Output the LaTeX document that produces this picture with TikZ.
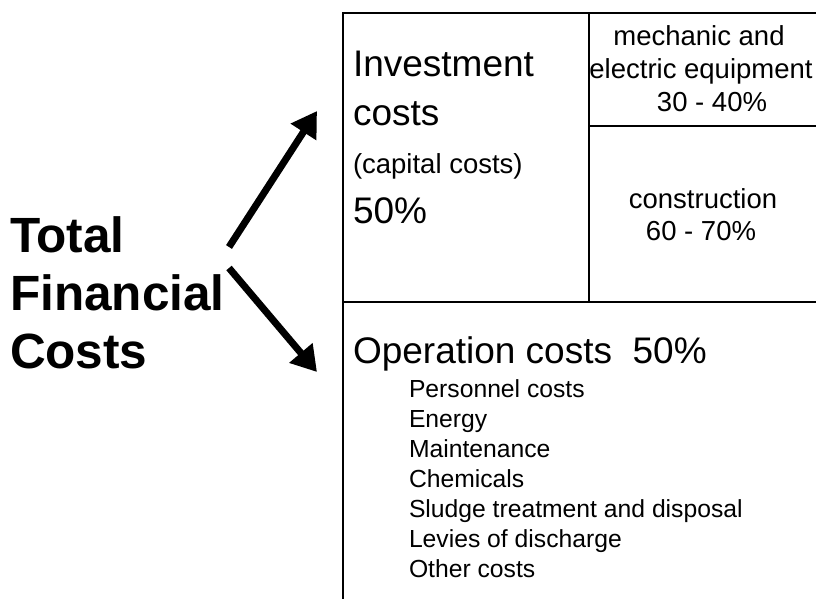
\documentclass[tikz,border=0pt]{standalone}
\usepackage{fontspec}
\setmainfont{Liberation Sans}
\usetikzlibrary{arrows.meta}
\begin{document}
\begin{tikzpicture}[x=1pt,y=-1pt,
  txt/.style={inner sep=0pt,outer sep=0pt,anchor=base west},
  ctxt/.style={inner sep=0pt,outer sep=0pt,anchor=base},
  title/.style={txt,font=\fontsize{49.5}{58}\selectfont\bfseries},
  big/.style={txt,font=\fontsize{37}{44}\selectfont},
  mid/.style={txt,font=\fontsize{27.5}{33}\selectfont},
  midc/.style={ctxt,font=\fontsize{27.5}{33}\selectfont},
  item/.style={txt,font=\fontsize{24.7}{30}\selectfont},
  boxline/.style={line width=1.6pt,black},
  bigarrow/.style={line width=7pt,-{Triangle[length=25pt,width=29pt]}}
]
\useasboundingbox (0,0) rectangle (816,599);
\fill[white] (0,0) rectangle (816,599);

% box lines
\draw[boxline] (343,599) -- (343,13) -- (816,13);
\draw[boxline] (589,13) -- (589,302);
\draw[boxline] (589,126) -- (816,126);
\draw[boxline] (343,302) -- (816,302);

% title
\node[title] (t1) at (10,252) {Total};
\node[title] (t2) at (10,310) {Financial};
\node[title] (t3) at (10,368) {Costs};

% arrows
\coordinate (a1s) at (229,247);
\coordinate (a1e) at (317,111);
\coordinate (a2s) at (229,268);
\coordinate (a2e) at (317,372);
\draw[bigarrow] (a1s) -- (a1e);
\draw[bigarrow] (a2s) -- (a2e);

% investment
\node[big] (inv1) at (353,77) {Investment};
\node[big] (inv2) at (353,125) {costs};
\node[mid] (inv3) at (353,173) {(capital costs)};
\node[big] (inv4) at (353,223) {50\%};

% equipment
\node[midc] (eq1) at (699,46) {mechanic and};
\node[midc] (eq2) at (701,79) {electric equipment};
\node[midc] (eq3) at (712,112) {30 - 40\%};

% construction
\node[midc] (co1) at (703,208) {construction};
\node[midc] (co2) at (701,240) {60 - 70\%};

% operation
\node[big] (op) at (353,363) {Operation costs\ \ 50\%};
\node[item] (i1) at (409,397) {Personnel costs};
\node[item] (i2) at (409,427) {Energy};
\node[item] (i3) at (409,457) {Maintenance};
\node[item] (i4) at (409,487) {Chemicals};
\node[item] (i5) at (409,517) {Sludge treatment and disposal};
\node[item] (i6) at (409,547) {Levies of discharge};
\node[item] (i7) at (409,577) {Other costs};
\end{tikzpicture}
\end{document}
